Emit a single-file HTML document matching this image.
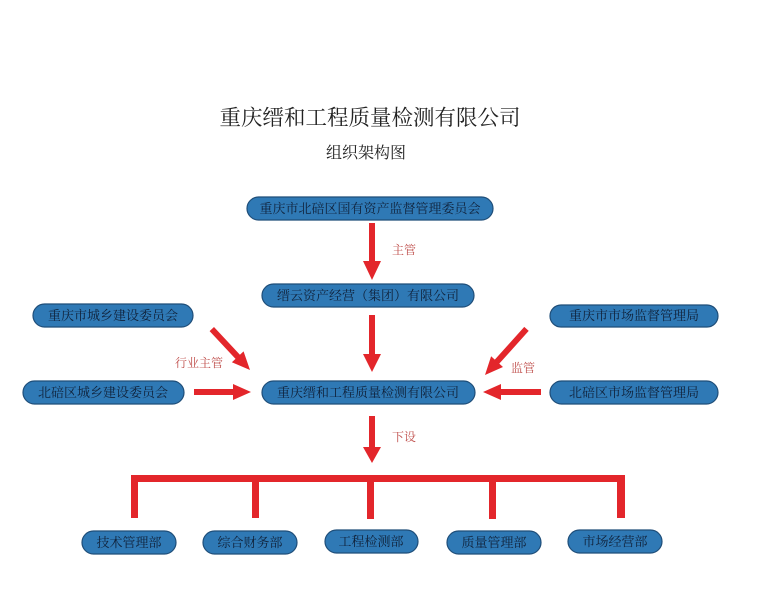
<!DOCTYPE html>
<html><head><meta charset="utf-8"><style>
html,body{margin:0;padding:0;background:#fff;}
svg{display:block;}
text{font-family:"Liberation Serif","Noto Serif CJK SC",serif;}
.b{fill:#2f79b5;stroke:#1f4e79;stroke-width:1.2;}
.t{fill:#10223a;font-size:13px;text-anchor:middle;}
.l{fill:#c0504d;font-size:12px;}
.r{fill:#e3262b;}
</style></head><body>
<svg width="764" height="609" viewBox="0 0 764 609" xmlns="http://www.w3.org/2000/svg">
<rect width="764" height="609" fill="#fff"/>
<text x="370" y="125" font-size="21.5" text-anchor="middle" fill="#222">重庆缙和工程质量检测有限公司</text>
<text x="366" y="158" font-size="16" text-anchor="middle" fill="#222">组织架构图</text>

<rect class="b" x="247" y="197" width="246" height="23" rx="11.5"/>
<text class="t" x="370" y="213">重庆市北碚区国有资产监督管理委员会</text>
<rect class="b" x="262" y="284" width="212" height="23" rx="11.5"/>
<text class="t" x="368" y="300">缙云资产经营（集团）有限公司</text>
<rect class="b" x="33" y="304" width="160" height="23" rx="11.5"/>
<text class="t" x="113" y="320">重庆市城乡建设委员会</text>
<rect class="b" x="23" y="381" width="161" height="23" rx="11.5"/>
<text class="t" x="103" y="397">北碚区城乡建设委员会</text>
<rect class="b" x="262" y="381" width="213" height="23" rx="11.5"/>
<text class="t" x="368" y="397">重庆缙和工程质量检测有限公司</text>
<rect class="b" x="550" y="305" width="168" height="22" rx="11"/>
<text class="t" x="634" y="320">重庆市市场监督管理局</text>
<rect class="b" x="550" y="381" width="168" height="23" rx="11.5"/>
<text class="t" x="634" y="397">北碚区市场监督管理局</text>

<!-- arrows -->
<polygon class="r" points="369,223 375,223 375,261 381,261 372,280 363,261 369,261"/>
<polygon class="r" points="369,315 375,315 375,354 381,354 372,372 363,354 369,354"/>
<polygon class="r" points="369,416 375,416 375,447 381,447 372,463 363,447 369,447"/>
<polygon class="r" points="194,389 233,389 233,384 251,392 233,400 233,395 194,395"/>
<polygon class="r" points="541,389 501,389 501,384 483,392 501,400 501,395 541,395"/>
<g transform="translate(250,370) rotate(47)"><polygon class="r" points="0,0 -18,-8 -18,-3 -56,-3 -56,3 -18,3 -18,8"/></g>
<g transform="translate(485,375) rotate(132)"><polygon class="r" points="0,0 -18,-8 -18,-3 -62,-3 -62,3 -18,3 -18,8"/></g>

<text class="l" x="392" y="254">主管</text>
<text class="l" x="175" y="367">行业主管</text>
<text class="l" x="511" y="372">监管</text>
<text class="l" x="392" y="441">下设</text>

<!-- tree -->
<rect class="r" x="131" y="475" width="494" height="7"/>
<rect class="r" x="131" y="475" width="7" height="43"/>
<rect class="r" x="252" y="475" width="7" height="43"/>
<rect class="r" x="367" y="475" width="7" height="44"/>
<rect class="r" x="489" y="475" width="7" height="44"/>
<rect class="r" x="617" y="475" width="8" height="43"/>

<rect class="b" x="82" y="531" width="94" height="23" rx="11.5"/>
<text class="t" x="129" y="547">技术管理部</text>
<rect class="b" x="203" y="531" width="94" height="23" rx="11.5"/>
<text class="t" x="250" y="547">综合财务部</text>
<rect class="b" x="325" y="530" width="93" height="23" rx="11.5"/>
<text class="t" x="371" y="546">工程检测部</text>
<rect class="b" x="447" y="531" width="94" height="23" rx="11.5"/>
<text class="t" x="494" y="547">质量管理部</text>
<rect class="b" x="568" y="530" width="94" height="23" rx="11.5"/>
<text class="t" x="615" y="546">市场经营部</text>
</svg>
</body></html>
